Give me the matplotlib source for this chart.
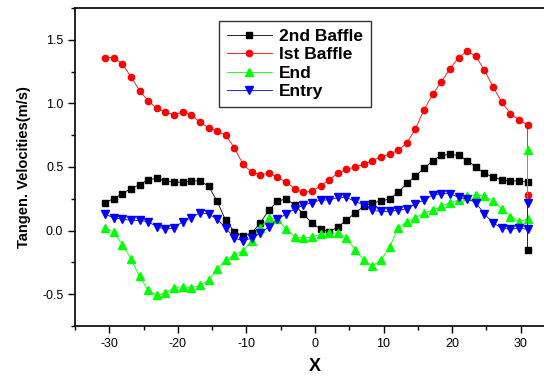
import matplotlib
matplotlib.use("Agg")
import matplotlib.pyplot as plt
from matplotlib.ticker import MultipleLocator

plt.rcParams['font.family'] = ['Liberation Sans', 'DejaVu Sans']
plt.rcParams['axes.unicode_minus'] = False

# x positions (last point repeated, as in the source data)
x = [-30.63, -29.37, -28.11, -26.86, -25.60, -24.34, -23.08, -21.82, -20.57, -19.31,
     -18.05, -16.79, -15.53, -14.28, -13.02, -11.76, -10.50, -9.24, -7.99, -6.73,
     -5.47, -4.21, -2.95, -1.70, -0.44, 0.82, 2.08, 3.34, 4.59, 5.85,
     7.11, 8.37, 9.63, 10.88, 12.14, 13.40, 14.66, 15.92, 17.17, 18.43,
     19.69, 20.95, 22.21, 23.46, 24.72, 25.98, 27.24, 28.50, 29.75, 31.01, 31.01]

baffle2 = [0.22, 0.25, 0.29, 0.33, 0.36, 0.40, 0.41, 0.39, 0.38, 0.38,
           0.39, 0.39, 0.35, 0.23, 0.08, -0.01, -0.04, -0.02, 0.06, 0.16,
           0.23, 0.25, 0.20, 0.13, 0.06, 0.01, -0.01, 0.03, 0.08, 0.14,
           0.19, 0.22, 0.23, 0.25, 0.30, 0.37, 0.43, 0.49, 0.55, 0.59,
           0.60, 0.59, 0.55, 0.50, 0.45, 0.42, 0.40, 0.39, 0.39, 0.38, -0.15]

baffle1 = [1.36, 1.36, 1.31, 1.21, 1.10, 1.02, 0.96, 0.93, 0.91, 0.93,
           0.91, 0.85, 0.81, 0.78, 0.75, 0.65, 0.52, 0.46, 0.44, 0.45,
           0.42, 0.38, 0.33, 0.30, 0.31, 0.35, 0.40, 0.45, 0.48, 0.50,
           0.52, 0.55, 0.58, 0.60, 0.63, 0.69, 0.80, 0.95, 1.07, 1.17,
           1.27, 1.36, 1.41, 1.37, 1.26, 1.13, 1.01, 0.92, 0.87, 0.83, 0.28]

end = [0.02, -0.01, -0.11, -0.22, -0.36, -0.47, -0.51, -0.49, -0.45, -0.44,
       -0.45, -0.43, -0.39, -0.30, -0.23, -0.19, -0.16, -0.08, 0.02, 0.10,
       0.09, 0.01, -0.05, -0.06, -0.05, -0.03, -0.02, -0.02, -0.06, -0.15,
       -0.23, -0.28, -0.23, -0.13, 0.02, 0.07, 0.10, 0.14, 0.16, 0.19,
       0.22, 0.24, 0.27, 0.28, 0.27, 0.23, 0.17, 0.11, 0.07, 0.09, 0.63]

entry = [0.13, 0.10, 0.09, 0.08, 0.08, 0.07, 0.03, 0.01, 0.02, 0.07,
         0.10, 0.14, 0.13, 0.09, 0.02, -0.06, -0.08, -0.06, -0.02, 0.03,
         0.09, 0.13, 0.17, 0.20, 0.22, 0.24, 0.24, 0.26, 0.26, 0.23,
         0.20, 0.16, 0.15, 0.15, 0.16, 0.17, 0.21, 0.24, 0.28, 0.29,
         0.29, 0.26, 0.25, 0.22, 0.13, 0.06, 0.02, 0.01, 0.02, 0.01, 0.22]

fig = plt.figure(figsize=(5.44, 3.76), dpi=100)
ax = fig.add_axes([0.138, 0.133, 0.882, 0.846])

ax.plot(x, baffle2, color='black', marker='s', ms=4, lw=0.6, label='2nd Baffle')
ax.plot(x, baffle1, color='#ff0000', marker='o', ms=4.5, lw=0.6, label='Ist Baffle')
ax.plot(x, end, color='#00ff00', marker='^', ms=5.5, lw=0.6, label='End')
ax.plot(x, entry, color='#0000ff', marker='v', ms=5.5, lw=0.6, label='Entry')

ax.set_xlim(-35, 35)
ax.set_ylim(-0.75, 1.75)
ax.xaxis.set_major_locator(MultipleLocator(10))
ax.xaxis.set_minor_locator(MultipleLocator(5))
ax.yaxis.set_major_locator(MultipleLocator(0.5))
ax.yaxis.set_minor_locator(MultipleLocator(0.25))
ax.tick_params(which='major', direction='out', length=5, width=1, labelsize=9)
ax.tick_params(which='minor', direction='out', length=3, width=1)
for s in ax.spines.values():
    s.set_linewidth(1.2)

ax.set_xlabel('X', fontsize=13, fontweight='bold', labelpad=6)
ax.set_ylabel('Tangen. Velocities(m/s)', fontsize=10.5, fontweight='bold', labelpad=8)

leg = ax.legend(loc='upper left', bbox_to_anchor=(0.3, 0.96), borderaxespad=0,
                prop={'weight': 'bold', 'size': 12.5}, frameon=True, fancybox=False,
                edgecolor='black', handlelength=2.6, labelspacing=0.2,
                borderpad=0.45, handletextpad=0.4)
leg.get_frame().set_linewidth(1.0)

fig.savefig('out.png', dpi=100)
